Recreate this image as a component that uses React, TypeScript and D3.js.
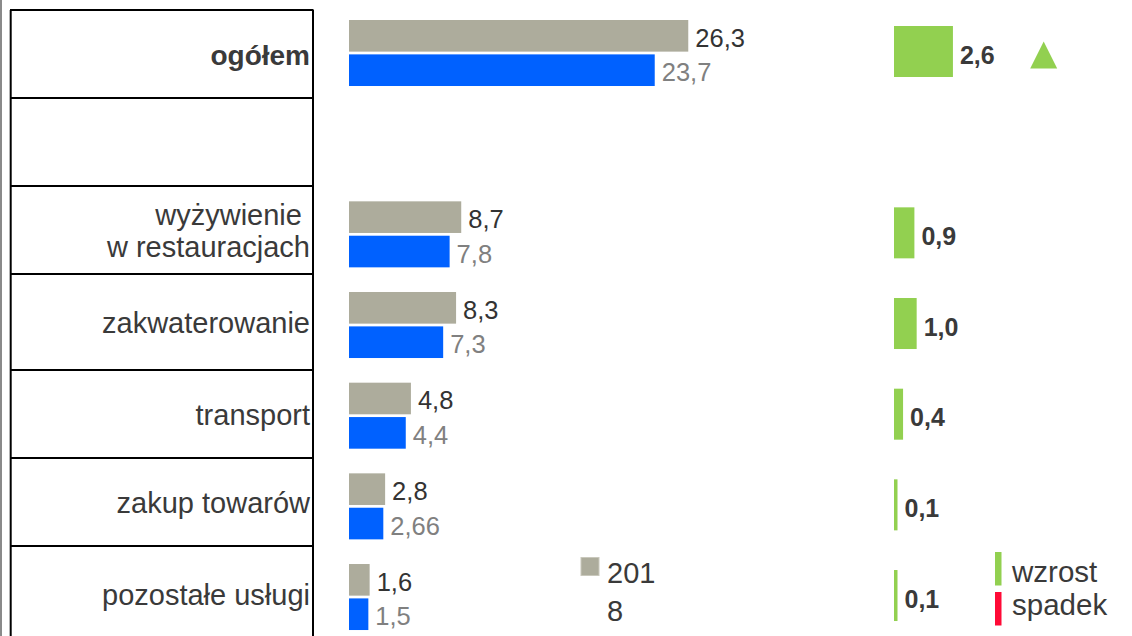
import { useEffect, useRef } from 'react';
import * as d3 from 'd3';

// Categories (empty row kept as in the table)
const categories = ['ogółem', '', 'wyżywienie \nw restauracjach', 'zakwaterowanie', 'transport', 'zakup towarów', 'pozostałe usługi'];
const values2018: (number | null)[] = [26.3, null, 8.7, 8.3, 4.8, 2.8, 1.6];
const values2017: (number | null)[] = [23.7, null, 7.8, 7.3, 4.4, 2.66, 1.5];
const seriesKeys = ['2018', '2017'];
const legendYear = ['201', '8'];
const changeLegend = ['wzrost', 'spadek'];

const W = 1132;
const H = 636;
const FONT = '"Liberation Sans", Arial, sans-serif';
const GRAY = '#adac9c';
const BLUE = '#0061ff';
const GREEN = '#92d050';
const RED = '#ff0a36';
const DARK = '#3a3a3a';

// table row edges (layout of the left-hand table)
const rowEdges = [10, 98, 186, 274, 370, 458, 546, 642];

const App = () => {
  const ref = useRef<SVGSVGElement>(null);

  useEffect(() => {
    if (!ref.current) return;
    const svg = d3.select(ref.current);
    svg.selectAll('*').remove();

    const fmt = (v: number) => String(v).replace('.', ',');
    const fmtDiff = (v: number) => d3.format('.1f')(v).replace('.', ',');

    const rows = categories.map((c, i) => ({
      cat: c,
      v18: values2018[i],
      v17: values2017[i],
      diff: values2018[i] != null && values2017[i] != null ? (values2018[i] as number) - (values2017[i] as number) : null,
    }));

    const y = d3.scaleBand<string>().domain(categories).range([7.67, 7.67 + 7 * 90.67]).paddingInner(0.272).paddingOuter(0.136);
    const ySub = d3.scaleBand<string>().domain(seriesKeys).range([0, y.bandwidth()]).paddingInner(0.08);
    const x = d3.scaleLinear().domain([0, 30]).range([349, 736]);
    const xd = d3.scaleLinear().domain([0, 3]).range([894, 962]);

    // left edge line
    svg.append('line').attr('x1', 1).attr('x2', 1).attr('y1', 0).attr('y2', H).attr('stroke', '#8a8a8a').attr('stroke-width', 2);

    // table
    const table = svg.append('g');
    table.selectAll('line.h').data(rowEdges).join('line')
      .attr('x1', 10).attr('x2', 313.5).attr('y1', (d) => d).attr('y2', (d) => d)
      .attr('stroke', '#000').attr('stroke-width', 2);
    [10.7, 313].forEach((xx) => {
      table.append('line').attr('x1', xx).attr('x2', xx).attr('y1', rowEdges[0]).attr('y2', rowEdges[rowEdges.length - 1])
        .attr('stroke', '#000').attr('stroke-width', 2);
    });

    rows.forEach((r, i) => {
      const lines = r.cat.split('\n');
      const cy = (rowEdges[i] + rowEdges[i + 1]) / 2 + 11;
      const t = table.append('text')
        .attr('text-anchor', 'end')
        .attr('font-family', FONT)
        .attr('font-size', i === 0 ? 28 : 29)
        .attr('font-weight', i === 0 ? 'bold' : 'normal')
        .attr('fill', DARK)
        .style('white-space', 'pre');
      lines.forEach((ln, j) => {
        t.append('tspan').attr('x', 310).attr('y', cy + (j - (lines.length - 1) / 2) * 32).text(ln);
      });
    });

    // grouped bars
    const data = rows.filter((r) => r.v18 != null);
    const g = svg.append('g');
    data.forEach((r) => {
      const y0 = y(r.cat) as number;
      const pairs = [
        { key: '2018', v: r.v18 as number, fill: GRAY, text: '#333' },
        { key: '2017', v: r.v17 as number, fill: BLUE, text: '#808080' },
      ];
      pairs.forEach((p) => {
        const yy = y0 + (ySub(p.key) as number);
        g.append('rect').attr('x', x(0)).attr('y', yy).attr('width', x(p.v) - x(0)).attr('height', ySub.bandwidth()).attr('fill', p.fill);
        g.append('text').attr('x', x(p.v) + 7).attr('y', yy + ySub.bandwidth() / 2 + 11)
          .attr('font-family', FONT).attr('font-size', 25.5).attr('fill', p.text).text(fmt(p.v));
      });

      // change bar
      const d = r.diff as number;
      const cy = y0 + y.bandwidth() / 2 - 1.5;
      const w = Math.max(xd(Math.abs(d)) - xd(0), 3.5);
      g.append('rect').attr('x', xd(0)).attr('y', cy - 25.5).attr('width', w).attr('height', 51)
        .attr('fill', d >= 0 ? GREEN : RED);
      g.append('text').attr('x', xd(0) + w + 7).attr('y', cy + 12)
        .attr('font-family', FONT).attr('font-size', 25).attr('font-weight', 'bold').attr('fill', DARK).text(fmtDiff(d));

      if (r.cat === categories[0]) {
        const tx = 1043.7;
        const ty = cy + 3.5;
        const p = d3.path();
        if (d >= 0) {
          p.moveTo(tx, ty - 13.5); p.lineTo(tx + 13.5, ty + 13.5); p.lineTo(tx - 13.5, ty + 13.5);
        } else {
          p.moveTo(tx, ty + 13.5); p.lineTo(tx + 13.5, ty - 13.5); p.lineTo(tx - 13.5, ty - 13.5);
        }
        p.closePath();
        g.append('path').attr('d', p.toString()).attr('fill', d >= 0 ? GREEN : RED);
      }
    });

    // legend: year
    const lg = svg.append('g');
    lg.append('rect').attr('x', 581).attr('y', 557.5).attr('width', 18).attr('height', 18).attr('fill', GRAY)
      .attr('stroke', '#c9c8bc').attr('stroke-width', 1);
    legendYear.forEach((t, i) => {
      lg.append('text').attr('x', 607).attr('y', 583 + i * 38).attr('font-family', FONT).attr('font-size', 29)
        .attr('fill', DARK).text(t);
    });

    // legend: change
    changeLegend.forEach((t, i) => {
      lg.append('rect').attr('x', 995).attr('y', 552 + i * 40).attr('width', 6.5).attr('height', 33.5)
        .attr('fill', i === 0 ? GREEN : RED);
      lg.append('text').attr('x', 1012).attr('y', 582 + i * 33).attr('font-family', FONT).attr('font-size', 29.5)
        .attr('fill', DARK).text(t);
    });
  }, []);

  return (
    <svg ref={ref} width={W} height={H} style={{ position: 'absolute', left: 0, top: 0, background: '#fff' }} />
  );
};

export default App;
